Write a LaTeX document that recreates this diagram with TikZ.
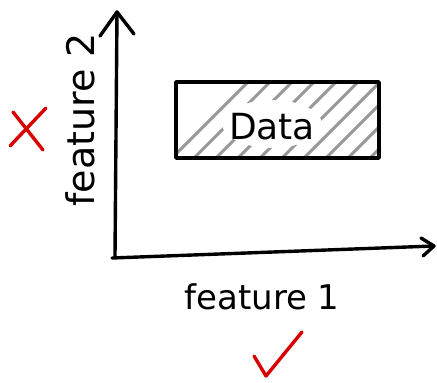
\documentclass[tikz,border=0pt]{standalone}
\usepackage{fontspec}
\setmainfont{DejaVu Sans}
\tikzset{
  pen/.style={line width=3.4pt, line cap=round, line join=round, black},
  redpen/.style={line width=3.4pt, line cap=round, line join=round, red!85!black},
  hatch/.style={line width=3pt, line cap=round, black!40},
  lbl/.style={inner sep=0pt},
}
\begin{document}
\begin{tikzpicture}[x=1pt,y=-1pt]
\useasboundingbox (0,0) rectangle (437,383);
% axes
\coordinate (o) at (115,256);
\coordinate (ytop) at (117,12);
\coordinate (xend) at (434,246);
\draw[pen] (o) -- (ytop);
\draw[pen] (100,36) -- (ytop) -- (134,34);
\draw[pen] (112,258) -- (xend);
\draw[pen] (421,238) -- (xend) -- (423,256);
% data box with hatching, kept clear of the label
\coordinate (b1) at (176,82);
\coordinate (b2) at (379,158);
\begin{scope}[even odd rule]
  \clip (b1) rectangle (b2) (272,124) ellipse (50 and 24);
  \foreach \k in {0,...,14} {
    \draw[hatch] ({160+22*\k},170) -- ++(90,-90);
  }
\end{scope}
\draw[pen] (b1) rectangle (b2);
\node[lbl, font=\fontsize{36}{40}\selectfont] (data) at (272,127) {Data};
% axis labels
\node[lbl, font=\fontsize{34}{38}\selectfont] (f1) at (262,297) {feature 1};
\node[lbl, font=\fontsize{38}{42}\selectfont, rotate=90] (f2) at (80,120) {feature 2};
% marks
\coordinate (xa) at (10,146);
\coordinate (xb) at (46,108);
\coordinate (xc) at (13,112);
\coordinate (xd) at (43,150);
\draw[redpen] (xa) -- (xb);
\draw[redpen] (xc) -- (xd);
\coordinate (c1) at (254,356);
\coordinate (c2) at (266,376);
\coordinate (c3) at (302,332);
\draw[redpen] (c1) -- (c2) -- (c3);
\end{tikzpicture}
\end{document}
